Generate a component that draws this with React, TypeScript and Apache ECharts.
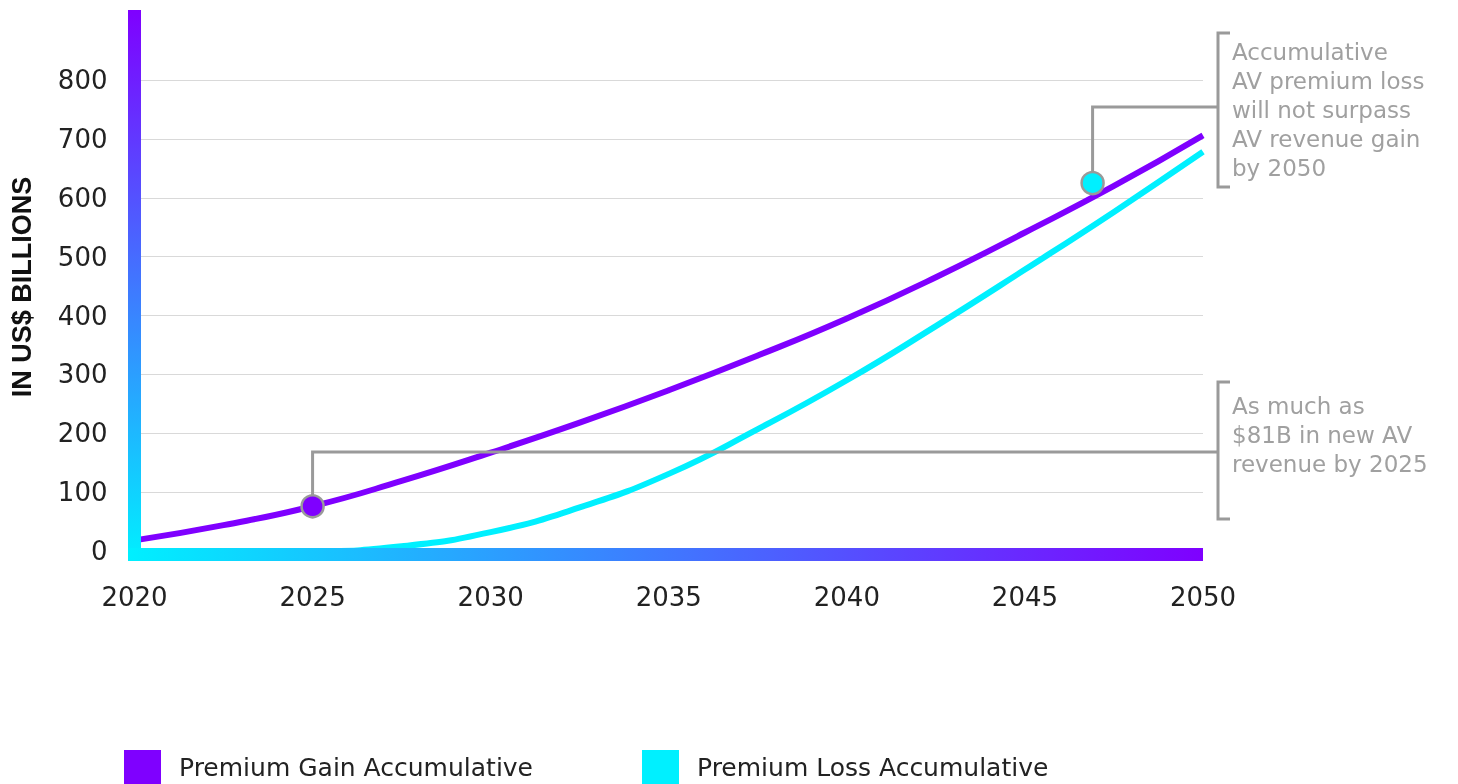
import React, { useEffect, useRef } from "react";
import * as echarts from "echarts";

const gainYears = [2020, 2022.5, 2025, 2027.5, 2030, 2032.5, 2035, 2037.5, 2040, 2042.5, 2045, 2047.5, 2050];
const gainValues = [18, 44, 76, 119, 167, 218, 273, 332, 395, 465, 541, 620, 706];
const lossYears = [2020, 2022.5, 2025, 2027.5, 2030, 2032.5, 2035, 2037.5, 2040, 2042.5, 2045, 2047.5, 2050];
const lossValues = [0, 0, 0, 8, 32, 74, 131, 207, 290, 382, 478, 576, 678];
const calloutYears = [2025, 2046.9];
const calloutValues = [76, 625];
const yTicks = [0, 100, 200, 300, 400, 500, 600, 700, 800];
const xTicks = [2020, 2025, 2030, 2035, 2040, 2045, 2050];
const seriesNames = ["Premium Gain Accumulative", "Premium Loss Accumulative"];
const noteGain = ["As much as", "$81B in new AV", "revenue by 2025"];
const noteLoss = ["Accumulative", "AV premium loss", "will not surpass", "AV revenue gain", "by 2050"];
const yTitle = "IN US$ BILLIONS";

const PURPLE = "#7f00ff";
const CYAN = "#00f0ff";
const GRAY = "#9a9a9a";
const AXIS_FONT = "DejaVu Sans";
const NOTE_FONT = "DejaVu Sans";

export default function App() {
  const ref = useRef<HTMLDivElement>(null);
  useEffect(() => {
    const chart = echarts.init(ref.current!, undefined, { renderer: "svg" });
    const pair = (xs: number[], ys: number[]) => xs.map((x, i) => [x, ys[i]]);
    const legendText = { fontFamily: AXIS_FONT, fontSize: 25, color: "#222", padding: [0, 0, 0, 13] };
    chart.setOption({
      animation: false,
      grid: { left: 134.5, right: 255, top: 80, bottom: 233 },
      xAxis: {
        type: "value",
        min: xTicks[0],
        max: xTicks[xTicks.length - 1],
        interval: 5,
        axisLine: { show: false },
        axisTick: { show: false },
        splitLine: { show: false },
        axisLabel: {
          margin: 33,
          formatter: (v: number) => String(v),
          fontFamily: AXIS_FONT,
          fontSize: 26,
          color: "#222",
        },
      },
      yAxis: {
        type: "value",
        min: yTicks[0],
        max: yTicks[yTicks.length - 1],
        interval: 100,
        axisLine: { show: false },
        axisTick: { show: false },
        splitLine: { lineStyle: { color: "#d9d9d9", width: 1 } },
        axisLabel: {
          margin: 27,
          fontFamily: AXIS_FONT,
          fontSize: 26,
          color: "#222",
        },
      },
      legend: [
        {
          left: 124,
          top: 750,
          padding: 0,
          icon: "rect",
          itemWidth: 37,
          itemHeight: 34,
          data: [seriesNames[0]],
          textStyle: legendText,
        },
        {
          left: 642,
          top: 750,
          padding: 0,
          icon: "rect",
          itemWidth: 37,
          itemHeight: 34,
          data: [seriesNames[1]],
          textStyle: legendText,
        },
      ],
      series: [
        {
          name: seriesNames[0],
          type: "line",
          data: pair(gainYears, gainValues),
          smooth: true,
          symbol: "none",
          color: PURPLE,
          lineStyle: { color: PURPLE, width: 6 },
          z: 2,
        },
        {
          name: seriesNames[1],
          type: "line",
          data: pair(lossYears, lossValues),
          smooth: true,
          symbol: "none",
          color: CYAN,
          lineStyle: { color: CYAN, width: 6 },
          z: 2,
        },
        {
          name: "callouts",
          type: "scatter",
          symbolSize: 22,
          z: 5,
          data: [
            { value: [calloutYears[0], calloutValues[0]], itemStyle: { color: PURPLE } },
            { value: [calloutYears[1], calloutValues[1]], itemStyle: { color: CYAN } },
          ],
          itemStyle: { borderColor: GRAY, borderWidth: 2.5, opacity: 1 },
        },
      ],
    });

    const o = chart.convertToPixel({ gridIndex: 0 }, [xTicks[0], 0]) as number[];
    const e = chart.convertToPixel({ gridIndex: 0 }, [xTicks[xTicks.length - 1], 0]) as number[];
    const c1 = chart.convertToPixel({ gridIndex: 0 }, [calloutYears[0], calloutValues[0]]) as number[];
    const c2 = chart.convertToPixel({ gridIndex: 0 }, [calloutYears[1], calloutValues[1]]) as number[];
    const bx = 1218;
    const lineStyle = { stroke: GRAY, lineWidth: 3, fill: null };
    const noteStyle = {
      fill: "#a0a0a0",
      fontFamily: NOTE_FONT,
      fontWeight: "normal",
      fontSize: 23,
      lineHeight: 29,
      textVerticalAlign: "top",
      textAlign: "left",
    };
    chart.setOption({
      graphic: [
        {
          type: "rect",
          z: 100,
          shape: { x: o[0] - 6.5, y: 10, width: 13, height: o[1] + 10 - 10 },
          style: {
            fill: new echarts.graphic.LinearGradient(0, 0, 0, 1, [
              { offset: 0, color: PURPLE },
              { offset: 1, color: CYAN },
            ]),
          },
        },
        {
          type: "rect",
          z: 100,
          shape: { x: o[0] - 6.5, y: o[1] - 3, width: e[0] - (o[0] - 6.5), height: 13 },
          style: {
            fill: new echarts.graphic.LinearGradient(0, 0, 1, 0, [
              { offset: 0, color: CYAN },
              { offset: 1, color: PURPLE },
            ]),
          },
        },
        {
          type: "text",
          x: 22,
          y: 287,
          rotation: Math.PI / 2,
          style: {
            text: yTitle,
            fill: "#111",
            fontFamily: "Liberation Sans",
            fontWeight: "bold",
            fontSize: 27,
            textAlign: "center",
            textVerticalAlign: "middle",
          },
        },
        { type: "polyline", z: 4, shape: { points: [[c1[0], c1[1] - 10], [c1[0], 452], [bx, 452]] }, style: lineStyle },
        { type: "polyline", z: 4, shape: { points: [[c2[0], c2[1] - 10], [c2[0], 107], [bx, 107]] }, style: lineStyle },
        { type: "polyline", shape: { points: [[bx + 12, 382], [bx, 382], [bx, 519], [bx + 12, 519]] }, style: lineStyle },
        { type: "polyline", shape: { points: [[bx + 12, 33], [bx, 33], [bx, 187], [bx + 12, 187]] }, style: lineStyle },
        { type: "text", x: 1232, y: 37.5, style: { ...noteStyle, text: noteLoss.join("\n") } },
        { type: "text", x: 1232, y: 391.5, style: { ...noteStyle, text: noteGain.join("\n") } },
      ],
    });
    return () => chart.dispose();
  }, []);
  return <div ref={ref} style={{ position: "fixed", left: 0, top: 0, width: 1458, height: 784 }} />;
}
